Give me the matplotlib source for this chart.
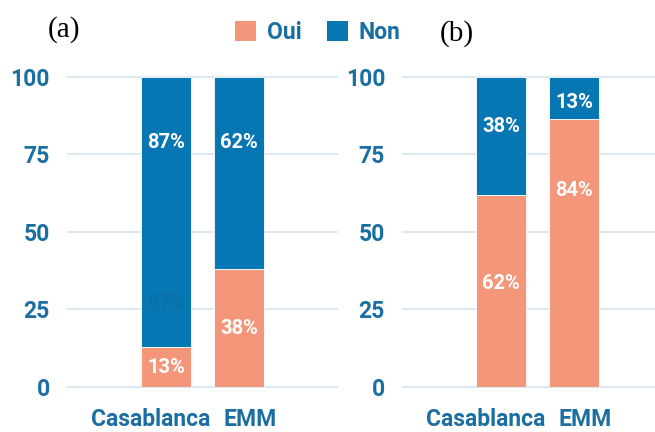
"""Two stacked percentage bar panels (Oui / Non) for Casablanca and EMM."""

import matplotlib
matplotlib.use("Agg")
import matplotlib.pyplot as plt
from matplotlib.patches import Patch
from matplotlib.transforms import ScaledTranslation

categories = ["Casablanca", "EMM"]

# panel (a)
oui_a = [13, 38]
non_a = [87, 62]
# panel (b)
oui_b = [62, 84]
non_b = [38, 13]

BLUE = "#0777b4"
SALMON = "#f3967a"
TEXT = "#1b6ea2"
GRID = "#dde9f1"

plt.rcParams["font.family"] = ["Roboto", "DejaVu Sans"]


def draw_panel(fig, ax, oui, non, label_pos, xlim):
    xs = list(range(len(categories)))
    tot = [o + n for o, n in zip(oui, non)]
    oui_pct = [100 * o / t for o, t in zip(oui, tot)]
    non_pct = [100 * n / t for n, t in zip(non, tot)]

    ax.bar(xs, oui_pct, width=0.685, color=SALMON, edgecolor="white",
           linewidth=0.6, zorder=3)
    ax.bar(xs, non_pct, bottom=oui_pct, width=0.685, color=BLUE,
           edgecolor="white", linewidth=0.6, zorder=3)

    # value labels, oui then non
    for i in xs:
        y_oui, y_non = label_pos[i]
        ax.text(i, y_oui, f"{oui[i]}%", ha="center", va="center", color="white",
                fontsize=14.5, fontweight="bold", zorder=4)
        ax.text(i, y_non, f"{non[i]}%", ha="center", va="center", color="white",
                fontsize=14.5, fontweight="bold", zorder=4)

    ax.set_xlim(*xlim)
    ax.set_ylim(0, 100)
    ax.set_yticks([0, 25, 50, 75, 100])
    ax.set_xticks(xs)
    ax.set_xticklabels(categories)
    ax.tick_params(axis="both", length=0, labelcolor=TEXT, labelsize=16.5)
    ax.tick_params(axis="y", pad=13)
    ax.tick_params(axis="x", pad=15)
    for lbl in ax.get_xticklabels() + ax.get_yticklabels():
        lbl.set_fontweight("bold")
    # push the two category names apart so they do not collide
    for lbl, dx in zip(ax.get_xticklabels(), [-15, 11]):
        lbl.set_transform(lbl.get_transform() +
                          ScaledTranslation(dx / 100, 0, fig.dpi_scale_trans))
    for sp in ax.spines.values():
        sp.set_visible(False)
    ax.grid(axis="y", color=GRID, linewidth=1.5, zorder=0)
    ax.set_axisbelow(True)
    for line in ax.get_ygridlines():
        line.set_clip_on(False)


fig = plt.figure(figsize=(6.55, 4.32), dpi=100)
ax_a = fig.add_axes([0.1038, 0.1042, 0.4107, 0.7176])
ax_b = fig.add_axes([0.6153, 0.1042, 0.3847, 0.7176])

draw_panel(fig, ax_a, oui_a, non_a, [(6.3, 79), (19, 79)], (-1.34, 2.34))
draw_panel(fig, ax_b, oui_b, non_b, [(33.5, 84), (63.5, 91.7)], (-1.34, 2.11))

# faint leftover label inside the Casablanca bar of panel (a)
ax_a.text(0, 27, f"{non_a[0]}%", ha="center", va="center", color="#0b6fa8",
          fontsize=14.5, fontweight="bold", zorder=4)

fig.text(0.073, 0.931, "(a)", family="Liberation Serif", fontsize=21,
         ha="left", va="center", color="black")
fig.text(0.672, 0.922, "(b)", family="Liberation Serif", fontsize=21,
         ha="left", va="center", color="black")

handles = [Patch(facecolor=SALMON, label="Oui"), Patch(facecolor=BLUE, label="Non")]
leg = fig.legend(handles=handles, loc="center", bbox_to_anchor=(0.485, 0.925),
                 ncol=2, frameon=False, handlelength=0.95, handleheight=0.95,
                 handletextpad=0.45, columnspacing=1.1,
                 prop={"size": 16.5, "weight": "bold"})
for t in leg.get_texts():
    t.set_color(TEXT)

fig.savefig("out.png", dpi=100)
